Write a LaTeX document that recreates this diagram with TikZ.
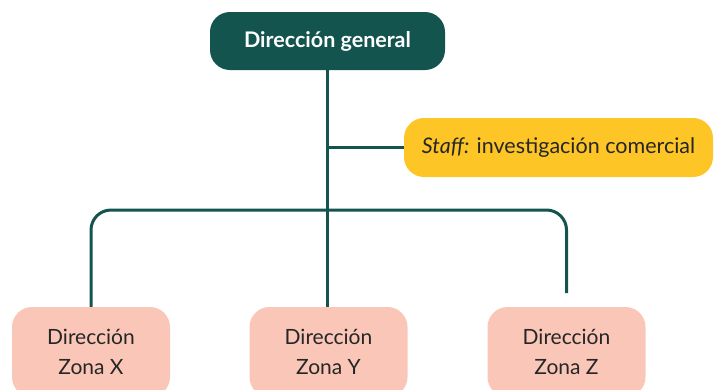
\documentclass[tikz,border=0pt]{standalone}
\usepackage{fontspec}
\setmainfont{Lato}
\usepackage{xcolor}
\usetikzlibrary{calc}

\definecolor{tealdark}{HTML}{13544F}
\definecolor{staffyellow}{HTML}{FDC525}
\definecolor{zonapink}{HTML}{F9C6B8}

\tikzset{
  boss/.style={fill=tealdark, text=white, rounded corners=20pt, font=\fontsize{21.5}{26}\selectfont\bfseries,
    minimum width=235pt, minimum height=58pt, inner sep=0pt},
  staffbox/.style={fill=staffyellow, text=black!85, rounded corners=20pt, font=\fontsize{21.5}{26}\selectfont,
    minimum width=309pt, minimum height=59pt, inner sep=0pt},
  zona/.style={fill=zonapink, text=black!85, rounded corners=20pt, font=\fontsize{21}{30}\selectfont,
    align=center, minimum width=158pt, minimum height=90pt, inner sep=0pt},
  link/.style={draw=tealdark, line width=3pt}
}

\begin{document}
\begin{tikzpicture}[x=1pt, y=-1pt]
  % Page frame
  \useasboundingbox (0,0) rectangle (714,389);
  \clip (0,0) rectangle (714,389);

  % Boxes
  \node[boss] (dir) at (327.5,41) {Dirección general};
  \node[staffbox] (staff) at (558.5,147.5) {\textit{Staff:} investigación comercial};
  \node[zona] (zx) at (91,352) {Dirección\\Zona X};
  \node[zona] (zy) at (328.5,352) {Dirección\\Zona Y};
  \node[zona] (zz) at (566.5,352) {Dirección\\Zona Z};

  % End of the right branch (stops above the box)
  \coordinate (zend) at (566.5,293);

  % Connectors
  \draw[link] (dir.south) -- (dir.south |- zy.north);
  \draw[link] (dir.south |- staff.west) -- (staff.west);
  \draw[link, rounded corners=20pt] (zx.north) -- (zx.north |- 0,210) -- (zend |- 0,210) -- (zend);

\end{tikzpicture}
\end{document}
